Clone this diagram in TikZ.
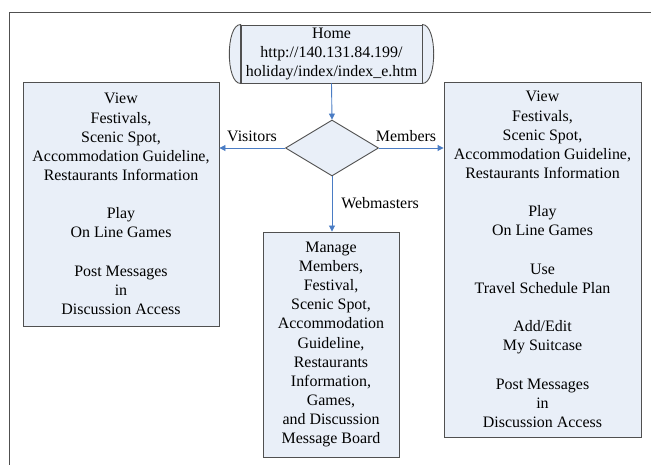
\documentclass[tikz,border=0pt]{standalone}
\usepackage{fontspec}
\setmainfont{Liberation Serif}
\usetikzlibrary{shapes.geometric,arrows.meta}
\definecolor{boxfill}{HTML}{E9EFF8}
\definecolor{boxline}{HTML}{505050}
\definecolor{arrowblue}{HTML}{4A7CC4}
\tikzset{
  txt/.style={font=\fontsize{16}{19.2}\selectfont, align=center, inner sep=0pt},
  panel/.style={txt, draw=boxline, fill=boxfill, line width=0.9bp},
  choice/.style={diamond, draw=boxline, fill=boxfill, line width=0.9bp, inner sep=0pt,
    minimum width=93bp, minimum height=56bp},
  flow/.style={draw=arrowblue, line width=0.9bp, -{Triangle[length=6bp,width=6bp]}},
  lbl/.style={font=\fontsize{16}{19.2}\selectfont, inner sep=0pt}
}
\begin{document}
\begin{tikzpicture}[x=1bp,y=-1bp]
\useasboundingbox (0,0) rectangle (651,465);
% outer frame (runs off the right and bottom edges)
\draw[boxline, line width=0.9bp] (9,470) -- (9,12) -- (660,12);

% Home terminator
\node[panel, minimum width=181bp, minimum height=58bp] (home) at (331.5,54)
  {Home\\http://140.131.84.199/\\holiday/index/index\_e.htm};
\draw[boxline, line width=0.9bp, fill=boxfill]
  (home.north west) .. controls +(-15,0) and +(-15,0) .. (home.south west) -- cycle;
\draw[boxline, line width=0.9bp, fill=boxfill]
  (home.north east) .. controls +(15,0) and +(15,0) .. (home.south east) -- cycle;

% decision
\node[choice] (dec) at (332,148) {};

% boxes
\node[panel, minimum width=196bp, minimum height=244bp] (vis) at (121,204)
  {View\\Festivals,\\Scenic Spot,\\Accommodation Guideline,\\Restaurants Information\\[19.2bp]Play\\On Line Games\\[19.2bp]Post Messages\\in\\Discussion Access};
\node[panel, minimum width=197bp, minimum height=355bp] (mem) at (542.5,259.5)
  {View\\Festivals,\\Scenic Spot,\\Accommodation Guideline,\\Restaurants Information\\[19.2bp]Play\\On Line Games\\[19.2bp]Use\\Travel Schedule Plan\\[19.2bp]Add/Edit\\My Suitcase\\[19.2bp]Post Messages\\in\\Discussion Access};
\node[panel, minimum width=136bp, minimum height=225bp] (web) at (331,344.5)
  {Manage\\Members,\\Festival,\\Scenic Spot,\\Accommodation\\Guideline,\\Restaurants\\Information,\\Games,\\and Discussion\\Message Board};

% connectors
\draw[flow] (home.south) -- (dec.north);
\draw[flow] (dec.west) -- (vis.east |- dec.west);
\draw[flow] (dec.east) -- (mem.west |- dec.east);
\draw[flow] (dec.south) -- (dec.south |- web.north);

% labels
\node[lbl] (lv) at (252,136) {Visitors};
\node[lbl] (lm) at (406,136) {Members};
\node[lbl] (lw) at (380,203) {Webmasters};
\end{tikzpicture}
\end{document}
